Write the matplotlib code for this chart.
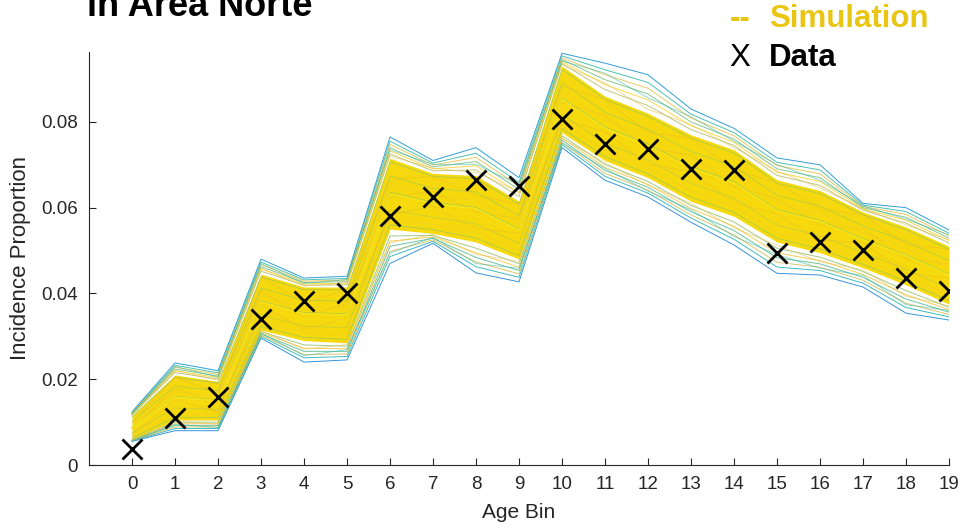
import numpy as np
import matplotlib
matplotlib.use("Agg")
import matplotlib.pyplot as plt
from matplotlib.colors import LinearSegmentedColormap

plt.rcParams['font.family'] = ['Liberation Sans', 'DejaVu Sans']

# ---- data ----
age_bins = list(range(20))
data_vals = [0.0037, 0.0110, 0.0159, 0.0340, 0.0382, 0.0401, 0.0580, 0.0625,
             0.0664, 0.0650, 0.0807, 0.0748, 0.0737, 0.0690, 0.0688, 0.0494,
             0.0520, 0.0501, 0.0436, 0.0406]
# simulation ensemble: outer envelope and dense core
sim_outer_lo = [0.0055, 0.0080, 0.0080, 0.0296, 0.0240, 0.0245, 0.0470, 0.0517,
                0.0448, 0.0427, 0.0740, 0.0664, 0.0625, 0.0566, 0.0513, 0.0447,
                0.0443, 0.0415, 0.0354, 0.0338]
sim_outer_hi = [0.0124, 0.0238, 0.0220, 0.0480, 0.0436, 0.0440, 0.0765, 0.0710,
                0.0740, 0.0670, 0.0960, 0.0937, 0.0910, 0.0830, 0.0785, 0.0716,
                0.0700, 0.0610, 0.0600, 0.0548]
sim_core_lo = [0.0060, 0.0105, 0.0105, 0.0315, 0.0290, 0.0285, 0.0550, 0.0540,
               0.0520, 0.0480, 0.0775, 0.0710, 0.0670, 0.0615, 0.0580, 0.0520,
               0.0495, 0.0460, 0.0420, 0.0375]
sim_core_hi = [0.0115, 0.0210, 0.0195, 0.0445, 0.0415, 0.0415, 0.0715, 0.0680,
               0.0675, 0.0615, 0.0930, 0.0860, 0.0820, 0.0770, 0.0735, 0.0665,
               0.0640, 0.0590, 0.0555, 0.0510]
x_ticklabels = [str(a) for a in age_bins]
y_ticks = [0, 0.02, 0.04, 0.06, 0.08]
y_ticklabels = ['0', '0.02', '0.04', '0.06', '0.08']

parula = LinearSegmentedColormap.from_list(
    'parula', ['#352A87', '#0F5CDD', '#1481D6', '#06A4CA', '#2EB7A4',
               '#87BF77', '#D1BB59', '#FEC832', '#F9FB0E'])

fig = plt.figure(figsize=(9.67, 5.29), dpi=100)
ax = fig.add_axes([89/967, 1-465/529, (949-89)/967, (465-52)/529])

x = np.array(age_bins, dtype=float)
olo = np.array(sim_outer_lo); ohi = np.array(sim_outer_hi)
clo = np.array(sim_core_lo); chi = np.array(sim_core_hi)
alt = np.array([(i % 2) for i in age_bins], dtype=float)

# sparse fringe lines between outer envelope and dense core
fr = [0.0, 0.2, 0.35, 0.5, 0.65, 0.8]
cols = [0.25, 0.45, 0.75, 0.55, 0.85, 0.65]
for f, c in zip(fr, cols):
    ax.plot(x, olo + f*(clo-olo), color=parula(c), lw=0.7, alpha=0.85)
    ax.plot(x, ohi - f*(ohi-chi), color=parula(min(c+0.05, 1)), lw=0.7, alpha=0.85)
# zig-zag texture lines in the fringe
for f, c in zip([0.3, 0.6], [0.5, 0.8]):
    ax.plot(x, olo + (f + 0.3*alt)*(clo-olo), color=parula(c), lw=0.6, alpha=0.6)
    ax.plot(x, ohi - (f + 0.3*(1-alt))*(ohi-chi), color=parula(c), lw=0.6, alpha=0.6)

# dense yellow core
ax.fill_between(x, clo, chi, color='#F5D90C', lw=0)
inner = [0.06, 0.15, 0.27, 0.4, 0.52, 0.63, 0.75, 0.87, 0.95]
icol = [0.55, 0.85, 0.65, 0.95, 0.5, 0.85, 0.6, 0.9, 0.55]
for f, c in zip(inner, icol):
    ax.plot(x, clo + f*(chi-clo), color=parula(c), lw=0.6, alpha=0.45)
for f in [0.2, 0.45, 0.7]:
    ax.plot(x, clo + (f + 0.25*alt)*(chi-clo), color='#E8B92A', lw=0.6, alpha=0.5)
ax.plot(x, clo + 0.5*(chi-clo), color='#FAE31A', lw=1.4, alpha=0.8)

# data
ax.plot(x, data_vals, linestyle='none', marker='x', markersize=15,
        markeredgewidth=2, color='black', zorder=5)

ax.set_xlim(-1, 19)
ax.set_ylim(0, 0.0963)
ax.set_xticks(age_bins)
ax.set_xticklabels(x_ticklabels)
ax.set_yticks(y_ticks)
ax.set_yticklabels(y_ticklabels)
for s in ['top', 'right']:
    ax.spines[s].set_visible(False)
for s in ['left', 'bottom']:
    ax.spines[s].set_color('#262626')
    ax.spines[s].set_linewidth(0.8)
ax.tick_params(direction='in', length=5, width=0.8, colors='#262626',
               labelsize=13.5, pad=8)
ax.set_xlabel('Age Bin', fontsize=15, color='#262626', labelpad=7)
ax.set_ylabel('Incidence Proportion', fontsize=16, color='#262626', labelpad=7)

fig.text(87/967, 1-16/529, 'in Area Norte', fontsize=26, fontweight='bold',
         ha='left', va='baseline', color='black')
fig.text(730/967, 1-27/529, '--', fontsize=22.5, fontweight='bold',
         ha='left', va='baseline', color='#E9C612')
fig.text(769/967, 1-27/529, 'Simulation', fontsize=22.5, fontweight='bold',
         ha='left', va='baseline', color='#E9C612')
fig.text(729/967, 1-66/529, 'X', fontsize=22.5, ha='left', va='baseline',
         color='black')
fig.text(769/967, 1-66/529, 'Data', fontsize=22.5, fontweight='bold',
         ha='left', va='baseline', color='black')

fig.savefig('out.png', dpi=100)
